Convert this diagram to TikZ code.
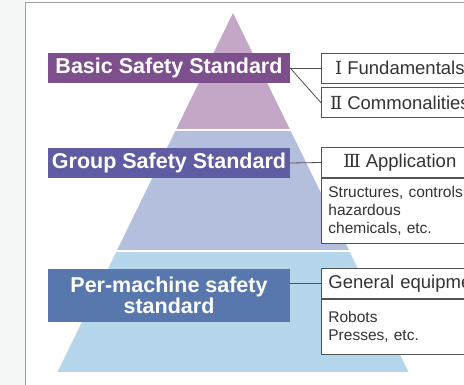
\documentclass[tikz,border=0pt]{standalone}
\usepackage{fontspec}
\setmainfont{Liberation Sans}
\newfontfamily\numfont{DejaVu Serif}
\usetikzlibrary{positioning}

% colours
\definecolor{basicpurple}{HTML}{7D4F8D}
\definecolor{grouppurple}{HTML}{5F5CA3}
\definecolor{machineblue}{HTML}{5878AD}
\definecolor{topfill}{HTML}{C4A6C6}
\definecolor{midfill}{HTML}{B4BEDD}
\definecolor{lowfill}{HTML}{B5D6EB}
\definecolor{framegray}{HTML}{A0A0A0}
\definecolor{sidegray}{HTML}{F5F7F7}
\definecolor{inkgray}{HTML}{333333}

\tikzset{
  tierlabel/.style={fill=#1, text=white, inner sep=0pt, align=center,
    minimum width=242pt, minimum height=30pt,
    font=\fontsize{21.5}{21}\selectfont\bfseries},
  itemhead/.style={draw=inkgray!85, line width=0.8pt, fill=white, text=inkgray,
    minimum width=157pt, minimum height=30pt, inner sep=0pt, anchor=west,
    font=\fontsize{18.5}{20}\selectfont},
  itembody/.style={draw=inkgray!85, line width=0.8pt, fill=white, text=inkgray,
    text width=143pt, inner xsep=7pt, inner ysep=0pt, align=left,
    font=\fontsize{15.5}{18}\selectfont},
  link/.style={draw=inkgray!85, line width=0.8pt}
}
% roman numeral in front of a heading
\newcommand{\numeral}[1]{{\numfont\fontsize{18}{20}\selectfont #1}\hspace{5pt}}

\begin{document}
\begin{tikzpicture}[x=1pt, y=-1pt]
    % --- FRAME ---
    \useasboundingbox (0,0) rectangle (464,385);
    \clip (0,0) rectangle (464,385);
    \fill[white] (0,0) rectangle (464,385);
    \fill[sidegray] (0,0) rectangle (25.5,385);
    \draw[framegray, line width=1.2pt] (25.5,385) -- (25.5,2.5) -- (470,2.5);

    % --- PYRAMID ---
    \def\Ax{233}   % apex
    \def\Ay{13}
    \def\By{372}   % base line
    \def\Hw{175.5} % half of the base
    \begin{scope}
        \clip (\Ax,\Ay) -- (\Ax+\Hw,\By) -- (\Ax-\Hw,\By) -- cycle;
        \fill[topfill] (0,0) rectangle (464,129);
        \fill[midfill] (0,131) rectangle (464,250);
        \fill[lowfill] (0,252) rectangle (464,\By);
    \end{scope}

    % --- TIER LABELS ---
    \node[tierlabel=basicpurple] (basic) at (169,68) {Basic Safety Standard};
    \node[tierlabel=grouppurple] (group) at (169,163) {Group Safety Standard};
    \node[tierlabel=machineblue, minimum height=53pt] (machine) at (169,295.5)
        {Per-machine safety\\standard};

    % --- ITEM BOXES ---
    \node[itemhead] (fund) at (321,68) {\numeral{Ⅰ}Fundamentals};
    \node[itemhead, below=4pt of fund] (common) {\numeral{Ⅱ}Commonalities};

    \node[itemhead] (app) at (321,162.5) {\numeral{Ⅲ}Application};
    \node[itembody, minimum height=65pt, below=0pt of app] (appbody)
        {Structures, controls\\hazardous\\chemicals, etc.};

    \node[itemhead, text width=170pt, inner xsep=7pt, align=left] (general)
        at (321,283.5) {General equipment};
    \node[itembody, minimum height=55pt, below=0pt of general.south west, anchor=north west]
        (generalbody) {Robots\\Presses, etc.};

    % --- CONNECTORS ---
    \draw[link] (basic.east) -- (fund.west);
    \draw[link] (basic.east) -- (common.west);
    \draw[link] (group.east) -- (app.west);
    \draw[link] (general.west -| machine.east) -- (general.west);
\end{tikzpicture}
\end{document}
